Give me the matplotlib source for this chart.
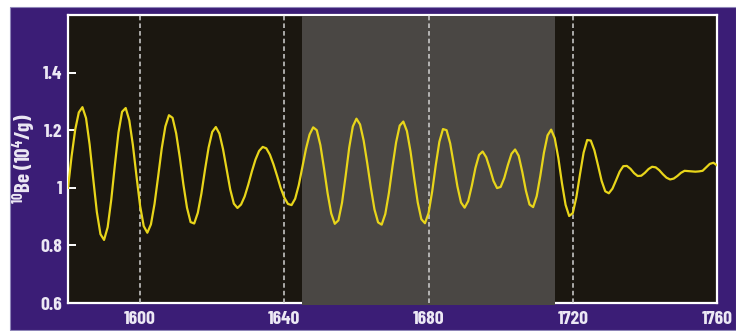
import matplotlib
matplotlib.use("Agg")
from matplotlib import pyplot as plt
from matplotlib.patches import Rectangle

# 10Be concentration, one value per year
years = list(range(1580, 1761))
be10 = [
    1.000, 1.110, 1.202, 1.262, 1.280, 1.242, 1.150, 1.031, 0.916, 0.839,  # 1580
    0.819, 0.863, 0.959, 1.079, 1.192, 1.264, 1.277, 1.234, 1.148, 1.040,  # 1590
    0.937, 0.867, 0.844, 0.873, 0.944, 1.039, 1.137, 1.213, 1.252, 1.243,  # 1600
    1.189, 1.106, 1.012, 0.931, 0.881, 0.876, 0.913, 0.980, 1.063, 1.140,  # 1610
    1.194, 1.211, 1.188, 1.134, 1.063, 0.994, 0.945, 0.930, 0.942, 0.970,  # 1620
    1.011, 1.057, 1.098, 1.128, 1.142, 1.137, 1.115, 1.081, 1.041, 0.999,  # 1630
    0.966, 0.944, 0.940, 0.962, 1.009, 1.072, 1.135, 1.185, 1.210, 1.200,  # 1640
    1.148, 1.068, 0.981, 0.911, 0.875, 0.887, 0.948, 1.041, 1.140, 1.213,  # 1650
    1.240, 1.220, 1.164, 1.085, 1.000, 0.925, 0.880, 0.872, 0.909, 0.982,  # 1660
    1.074, 1.158, 1.216, 1.230, 1.197, 1.126, 1.035, 0.949, 0.891, 0.877,  # 1670
    0.912, 0.987, 1.079, 1.160, 1.204, 1.200, 1.154, 1.081, 1.005, 0.949,  # 1680
    0.931, 0.954, 1.007, 1.069, 1.114, 1.126, 1.106, 1.067, 1.024, 0.999,  # 1690
    1.003, 1.034, 1.079, 1.118, 1.133, 1.111, 1.055, 0.990, 0.942, 0.933,  # 1700
    0.971, 1.042, 1.122, 1.182, 1.202, 1.172, 1.103, 1.016, 0.941, 0.902,  # 1710
    0.912, 0.968, 1.047, 1.122, 1.166, 1.164, 1.130, 1.078, 1.024, 0.988,  # 1720
    0.981, 0.997, 1.026, 1.056, 1.075, 1.076, 1.066, 1.051, 1.041, 1.042,  # 1730
    1.052, 1.065, 1.073, 1.071, 1.061, 1.047, 1.035, 1.029, 1.032, 1.041,  # 1740
    1.052, 1.059, 1.058, 1.057, 1.056, 1.057, 1.059, 1.071, 1.083, 1.087,  # 1750
    1.078,                                                                 # 1760
]

minimum_span = (1645, 1715)          # shaded period
marker_years = [1600, 1640, 1680, 1720]
xticks = [1600, 1640, 1680, 1720, 1760]
yticks = [0.6, 0.8, 1.0, 1.2, 1.4]
ytick_labels = ["0.6", "0.8", "1", "1.2", "1.4"]

purple = "#3b1d76"
txt_col = "#ece8f4"
font = ["Barlow Condensed", "DejaVu Sans"]

plt.rcParams["mathtext.fontset"] = "custom"
plt.rcParams["mathtext.rm"] = "Barlow Condensed:bold"
plt.rcParams["mathtext.it"] = "Barlow Condensed:bold"
plt.rcParams["mathtext.bf"] = "Barlow Condensed:bold"
plt.rcParams["mathtext.default"] = "rm"

fig = plt.figure(figsize=(7.36, 3.31), dpi=100, facecolor="white")
fig.patches.append(Rectangle((10 / 736, 0.003), 1 - 10 / 736, (331 - 7) / 331 - 0.003,
                             transform=fig.transFigure, facecolor=purple,
                             edgecolor="#8f86b8", lw=0.8, zorder=-5))

ax = fig.add_axes([68 / 736, 28 / 331, (717 - 68) / 736, (303 - 15) / 331])
ax.set_facecolor("#1b1710")

ax.axvspan(*minimum_span, ymin=-0.008, ymax=0.995, color="#4a4744", lw=0,
           zorder=2.6, clip_on=False)
for yr in marker_years:
    ax.axvline(yr, color="#d2d2d2", lw=1.1, ls=(0, (3, 2)), zorder=3)

ax.plot(years, be10, color="#e8d51a", lw=1.6, zorder=4,
        solid_joinstyle="round", antialiased=True)

ax.set_xlim(1580, 1760)
ax.set_ylim(0.6, 1.6)
ax.set_xticks(xticks)
ax.set_yticks(yticks)
ax.set_yticklabels(ytick_labels)

for s in ax.spines.values():
    s.set_color("white")
    s.set_linewidth(1.6)

ax.tick_params(axis="y", direction="in", length=6, width=1.4, color="white", pad=4)
ax.tick_params(axis="x", length=0, pad=6)
for lab in ax.get_xticklabels() + ax.get_yticklabels():
    lab.set_family(font)
    lab.set_fontweight("bold")
    lab.set_fontsize(14)
    lab.set_color(txt_col)

ax.set_ylabel(r"$^{10}$Be (10$^{4}$/g)", family=font, fontweight="bold",
              fontsize=15, color=txt_col, labelpad=2)

fig.savefig("out.png", dpi=100, facecolor=fig.get_facecolor())
